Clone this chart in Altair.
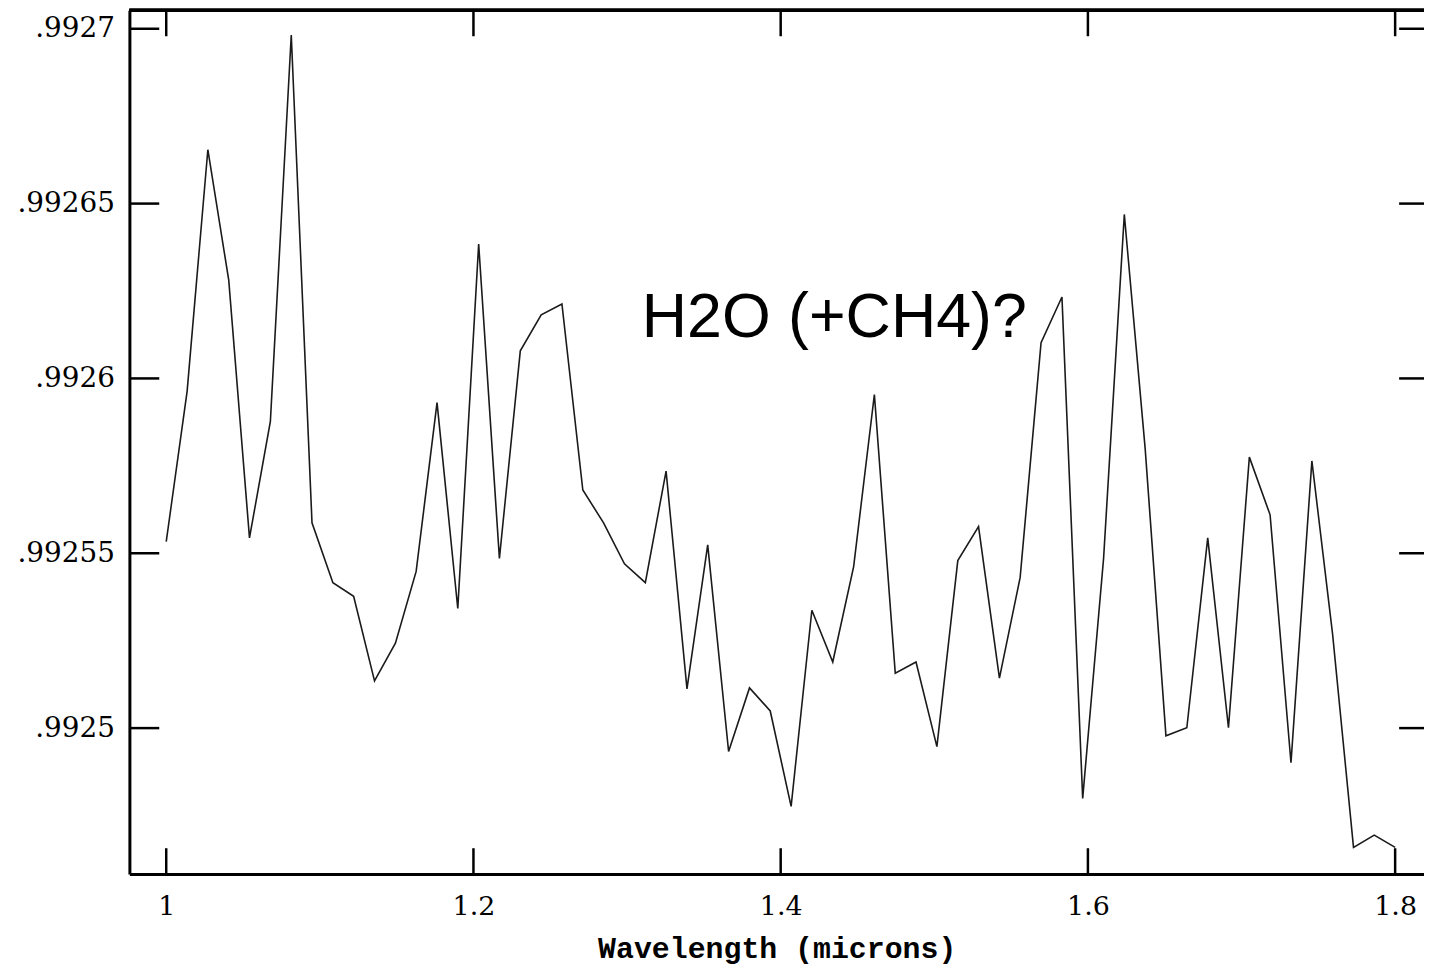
import altair as alt
import pandas as pd

# ---- data ----
wavelength = [
    1.0000, 1.0136, 1.0271, 1.0407, 1.0542, 1.0678, 1.0814, 1.0949, 1.1085, 1.1220,
    1.1356, 1.1492, 1.1627, 1.1763, 1.1898, 1.2034, 1.2169, 1.2305, 1.2441, 1.2576,
    1.2712, 1.2847, 1.2983, 1.3119, 1.3254, 1.3390, 1.3525, 1.3661, 1.3797, 1.3932,
    1.4068, 1.4203, 1.4339, 1.4475, 1.4610, 1.4746, 1.4881, 1.5017, 1.5153, 1.5288,
    1.5424, 1.5559, 1.5695, 1.5831, 1.5966, 1.6102, 1.6237, 1.6373, 1.6508, 1.6644,
    1.6780, 1.6915, 1.7051, 1.7186, 1.7322, 1.7458, 1.7593, 1.7729, 1.7864, 1.8000,
]
flux = [
    0.9925533, 0.9925963, 0.9926654, 0.9926281, 0.9925544, 0.9925877, 0.9926982, 0.9925587, 0.9925416, 0.9925377,
    0.9925135, 0.9925243, 0.9925448, 0.9925931, 0.9925342, 0.9926384, 0.9925485, 0.9926079, 0.9926182, 0.9926213,
    0.9925681, 0.9925587, 0.9925470, 0.9925416, 0.9925735, 0.9925112, 0.9925524, 0.9924933, 0.9925115, 0.9925049,
    0.9924776, 0.9925337, 0.9925189, 0.9925462, 0.9925954, 0.9925157, 0.9925189, 0.9924947, 0.9925479, 0.9925576,
    0.9925143, 0.9925431, 0.9926102, 0.9926233, 0.9924799, 0.9925485, 0.9926469, 0.9925798, 0.9924978, 0.9925001,
    0.9925544, 0.9925001, 0.9925775, 0.9925610, 0.9924901, 0.9925764, 0.9925268, 0.9924659, 0.9924694, 0.9924659,
]
x_ticks = [1.0, 1.2, 1.4, 1.6, 1.8]
y_ticks = [0.9925, 0.99255, 0.9926, 0.99265, 0.9927]
annot_text = ["H2O (+CH4)?"]
annot_x = [1.3096]
annot_y = [0.9926119]

X_DOMAIN = [0.97603, 1.81879]
Y_DOMAIN = [0.99245825, 0.99270526]
W, H = 1301, 868

df = pd.DataFrame({"wl": wavelength, "flux": flux})
xt = pd.DataFrame({"wl": x_ticks})
yt = pd.DataFrame({"flux": y_ticks})
ann = pd.DataFrame({"label": annot_text, "wl": annot_x, "flux": annot_y})

xscale = alt.Scale(domain=X_DOMAIN, nice=False, zero=False)
yscale = alt.Scale(domain=Y_DOMAIN, nice=False, zero=False)

x_axis = alt.Axis(title="Wavelength (microns)", values=x_ticks, format="~g",
                  ticks=False, grid=False, domain=True, domainColor="black",
                  domainWidth=3, labelFont="DejaVu Serif", labelFontSize=27,
                  labelColor="black", labelPadding=20, labelFlush=False,
                  titleFont="Liberation Mono", titleFontWeight="bold",
                  titleFontSize=30, titleColor="black", titlePadding=14)
y_axis = alt.Axis(title=None, values=y_ticks,
                  labelExpr="substring(format(datum.value, '.5~f'), 1)",
                  ticks=False, grid=False, domain=True, domainColor="black",
                  domainWidth=3, labelFont="DejaVu Serif", labelFontSize=28,
                  labelColor="black", labelPadding=15, labelFlush=False)

X = alt.X("wl:Q", scale=xscale, axis=x_axis, title="Wavelength (microns)")
Y = alt.Y("flux:Q", scale=yscale, axis=y_axis, title=None)

line = alt.Chart(df).mark_line(color="#1a1a1a", strokeWidth=1.6, clip=True).encode(x=X, y=Y)

bottom_ticks = alt.Chart(xt).mark_rule(color="black", strokeWidth=2.5).encode(
    x=X, y=alt.value(H), y2=alt.value(H - 26),
)
top_ticks = alt.Chart(xt).mark_rule(color="black", strokeWidth=2.5).encode(
    x=X, y=alt.value(0), y2=alt.value(26),
)
left_ticks = alt.Chart(yt).mark_rule(color="black", strokeWidth=2.5).encode(
    y=Y, x=alt.value(0), x2=alt.value(30),
)
right_ticks = alt.Chart(yt).mark_rule(color="black", strokeWidth=2.5).encode(
    y=Y, x=alt.value(W - 25), x2=alt.value(W),
)
top_border = alt.Chart(xt).mark_rule(color="black", strokeWidth=3).encode(
    x=alt.value(0), x2=alt.value(W), y=alt.value(0),
)

annotation = alt.Chart(ann).mark_text(
    align="left", baseline="alphabetic", font="Liberation Sans", fontSize=63, color="black"
).encode(x=X, y=Y, text="label:N")

chart = alt.layer(
    line, bottom_ticks, top_ticks, left_ticks, right_ticks, top_border, annotation
).properties(
    width=W, height=H,
    autosize=alt.AutoSizeParams(type="none"),
    padding={"left": 122, "top": 0, "right": 0, "bottom": 93},
    background="white",
).configure_view(stroke=None)

chart.save("out.html", embed_options={"renderer": "svg", "actions": False})
